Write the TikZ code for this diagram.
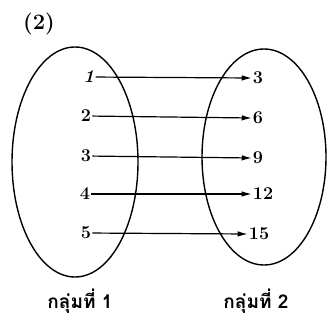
\documentclass[tikz,border=0pt]{standalone}
\usepackage{fontspec}
\newfontfamily\thaifont[Script=Thai]{Loma}
\usetikzlibrary{arrows.meta}
\begin{document}
\begin{tikzpicture}[x=1pt,y=-1pt,
  num/.style={font=\bfseries\fontsize{18}{20}\selectfont, inner sep=1pt},
  setring/.style={draw, line width=1.4pt},
  mapto/.style={draw, line width=1.2pt, -{Latex[length=10pt,width=5.5pt]}},
  grp/.style={font=\thaifont\bfseries\fontsize{19}{21}\selectfont}]
\useasboundingbox (0,0) rectangle (328,326);
\node[font=\bfseries\fontsize{22}{24}\selectfont] (lbl) at (39,24) {(2)};
\draw[setring] (75,162) ellipse [x radius=63, y radius=115];
\draw[setring] (264,157) ellipse [x radius=62, y radius=108];
\node[num] (a1) at (89,77) {\itshape 1};
\node[num] (a2) at (86,116) {2};
\node[num] (a3) at (86,156) {3};
\node[num] (a4) at (85,194) {4};
\node[num] (a5) at (86,233) {5};
\node[num] (b1) at (258,78) {3};
\node[num] (b2) at (258,118) {6};
\node[num] (b3) at (258,158) {9};
\node[num] (b4) at (263,194) {12};
\node[num] (b5) at (259,234) {15};
\draw[mapto] (a1) -- (b1.west);
\draw[mapto] (a2) -- (b2.west);
\draw[mapto] (a3) -- (b3.west);
\draw[mapto] (a4) -- (b4.west);
\draw[mapto] (a5) -- (b5.west);
\node[grp] (g1) at (80,301) {กลุ่มที่ 1};
\node[grp] (g2) at (256,301) {กลุ่มที่ 2};
\end{tikzpicture}
\end{document}
